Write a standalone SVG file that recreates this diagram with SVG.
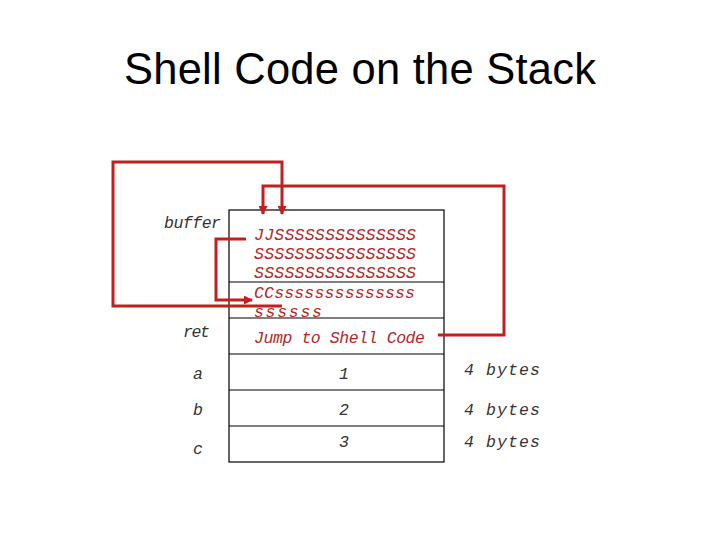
<svg xmlns="http://www.w3.org/2000/svg" width="720" height="540" viewBox="0 0 720 540">
<defs>
<style>
.title{font-family:"Liberation Sans",Arial,sans-serif;font-size:43.5px;fill:#000}
.lbl{font-family:"Liberation Mono","Courier New",monospace;font-style:italic;font-size:16.5px;fill:#333}
.code{font-family:"Liberation Mono","Courier New",monospace;font-style:italic;font-size:16.5px;fill:#b52828}
.cell{fill:none;stroke:#000;stroke-width:1.2}
.wire{fill:none;stroke:#c41e1e;stroke-width:3}
</style>
<marker id="ah" viewBox="0 0 10 10" refX="9" refY="5" markerWidth="3" markerHeight="3" orient="auto" markerUnits="strokeWidth">
<path d="M0,0 L10,5 L0,10 z" fill="#c41e1e"/>
</marker>
</defs>
<rect width="720" height="540" fill="#fff"/>
<text class="title" x="360" y="84" text-anchor="middle" textLength="472">Shell Code on the Stack</text>

<g id="stack">
<rect class="cell" x="229" y="210" width="215" height="252"/>
<line class="cell" x1="229" y1="282" x2="444" y2="282"/>
<line class="cell" x1="229" y1="318" x2="444" y2="318"/>
<line class="cell" x1="229" y1="354" x2="444" y2="354"/>
<line class="cell" x1="229" y1="390" x2="444" y2="390"/>
<line class="cell" x1="229" y1="426" x2="444" y2="426"/>
</g>

<g id="buffer">
<text class="lbl" x="164" y="228" textLength="57">buffer</text>
<text class="code" x="254" y="240" textLength="162">JJSSSSSSSSSSSSSS</text>
<text class="code" x="254" y="259" textLength="162">SSSSSSSSSSSSSSSS</text>
<text class="code" x="254" y="278" textLength="162">SSSSSSSSSSSSSSSS</text>
<text class="code" x="254" y="298" textLength="161">CCssssssssssssss</text>
<text class="code" x="254" y="317" textLength="68">ssssss</text>
</g>

<g id="ret">
<text class="lbl" x="183" y="337" textLength="27">ret</text>
<text class="code" x="254" y="343" textLength="171">Jump to Shell Code</text>
</g>

<g id="a">
<text class="lbl" x="193" y="379">a</text>
<text class="lbl" x="339" y="379">1</text>
<text class="lbl" x="464" y="375" textLength="76">4 bytes</text>
</g>
<g id="b">
<text class="lbl" x="193" y="415">b</text>
<text class="lbl" x="339" y="415">2</text>
<text class="lbl" x="464" y="415" textLength="76">4 bytes</text>
</g>
<g id="c">
<text class="lbl" x="193" y="454">c</text>
<text class="lbl" x="339" y="447">3</text>
<text class="lbl" x="464" y="447" textLength="76">4 bytes</text>
</g>

<g id="connectors">
<polyline class="wire" points="282,306 113,306 113,162 282,162 282,214" marker-end="url(#ah)"/>
<polyline class="wire" points="438,335 504,335 504,186 263,186 263,214" marker-end="url(#ah)"/>
<polyline class="wire" points="246,239 216,239 216,300 252,300" marker-end="url(#ah)"/>
</g>
</svg>
